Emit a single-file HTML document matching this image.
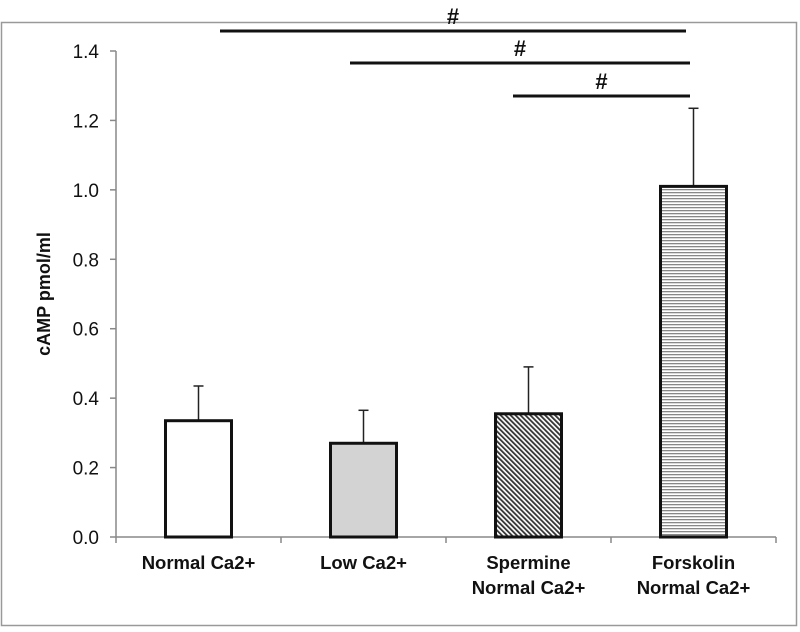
<!DOCTYPE html>
<html><head><meta charset="utf-8"><style>
html,body{margin:0;padding:0;background:#fff;}
svg text{font-family:"Liberation Sans",Arial,sans-serif;}
</style></head><body>
<svg id="chart" width="800" height="627" xmlns="http://www.w3.org/2000/svg">
<defs>
<pattern id="diag" patternUnits="userSpaceOnUse" width="3.5" height="3.5" patternTransform="rotate(-45)">
<rect width="3.5" height="3.5" fill="#fff"/><rect width="1.8" height="3.5" fill="#333"/>
</pattern>
<pattern id="horiz" patternUnits="userSpaceOnUse" width="4" height="3">
<rect width="4" height="3" fill="#fff"/><rect width="4" height="1.3" fill="#888"/>
</pattern>
</defs>
<rect x="1.5" y="22.5" width="795" height="603" fill="none" stroke="#999" stroke-width="1.5"/>
<g id="g"></g>
</svg>
<script>
const categories=[["Normal Ca2+"],["Low Ca2+"],["Spermine","Normal Ca2+"],["Forskolin","Normal Ca2+"]];
const values=[0.335,0.27,0.355,1.01];
const errors=[0.10,0.095,0.135,0.225];
const fills=["#fff","#d3d3d3","url(#diag)","url(#horiz)"];
const yTicks=[0,0.2,0.4,0.6,0.8,1.0,1.2,1.4];
const sigFrom=[0,1,2];
const sigTo=[3,3,3];
const NS="http://www.w3.org/2000/svg";
const g=document.getElementById('g');
const x0=116,catW=165,y0=537,yTop=51,yMax=1.4,barW=66;
function y(v){return y0-(v/yMax)*(y0-yTop);}
function xc(i){return x0+catW*(i+0.5);}
function mk(t,a,p){const e=document.createElementNS(NS,t);for(const k in a)e.setAttribute(k,a[k]);(p||g).appendChild(e);return e;}
let e;
e=mk('line',{x1:x0,y1:y0,x2:x0,y2:yTop,stroke:'#888','stroke-width':1.5});


e=mk('line',{x1:x0,y1:y0,x2:x0+catW*4,y2:y0,stroke:'#888','stroke-width':1.5});


yTicks.forEach(v=>{
 e=mk('line',{x1:x0-6,y1:y(v),x2:x0,y2:y(v),stroke:'#888','stroke-width':1.5});
 
 
 e=mk('text',{x:x0-17,y:y(v)+7,'text-anchor':'end','font-size':19,fill:'#111'});
 e.textContent=v.toFixed(1);
 
 
});
for(let i=0;i<=4;i++){
 e=mk('line',{x1:x0+catW*i,y1:y0,x2:x0+catW*i,y2:y0+6,stroke:'#888','stroke-width':1.5});
 
 
}
e=mk('text',{x:0,y:0,transform:'translate(50,'+((y0+yTop)/2)+') rotate(-90)','text-anchor':'middle','font-size':18,'font-weight':'bold',fill:'#111'});
e.textContent='cAMP pmol/ml';


values.forEach((v,i)=>{
 const cx=xc(i);
 e=mk('line',{x1:cx,y1:y(v),x2:cx,y2:y(v+errors[i]),stroke:'#222','stroke-width':1.5});
 
 
 e=mk('line',{x1:cx-5,y1:y(v+errors[i]),x2:cx+5,y2:y(v+errors[i]),stroke:'#222','stroke-width':1.5});
 
 
 e=mk('rect',{x:cx-barW/2,y:y(v),width:barW,height:y0-y(v),fill:fills[i],stroke:'#111','stroke-width':3});
 
 
 categories[i].forEach((line,j)=>{
  e=mk('text',{x:cx,y:569+j*25,'text-anchor':'middle','font-size':18.5,'font-weight':'bold',fill:'#111'});
  e.textContent=line;
  
  
 });
});
const sigY=[31,63,96];
sigFrom.forEach((f,k)=>{
 const xa=[220,350,513][k], xb=[686,690,690][k];
 e=mk('line',{x1:xa,y1:sigY[k],x2:xb,y2:sigY[k],stroke:'#111','stroke-width':3});
 
 
 e=mk('text',{x:(xa+xb)/2,y:sigY[k]-7,'text-anchor':'middle','font-size':22,'font-weight':'bold',fill:'#111'});
 e.textContent='#';
 
 
});
</script>
</body></html>
